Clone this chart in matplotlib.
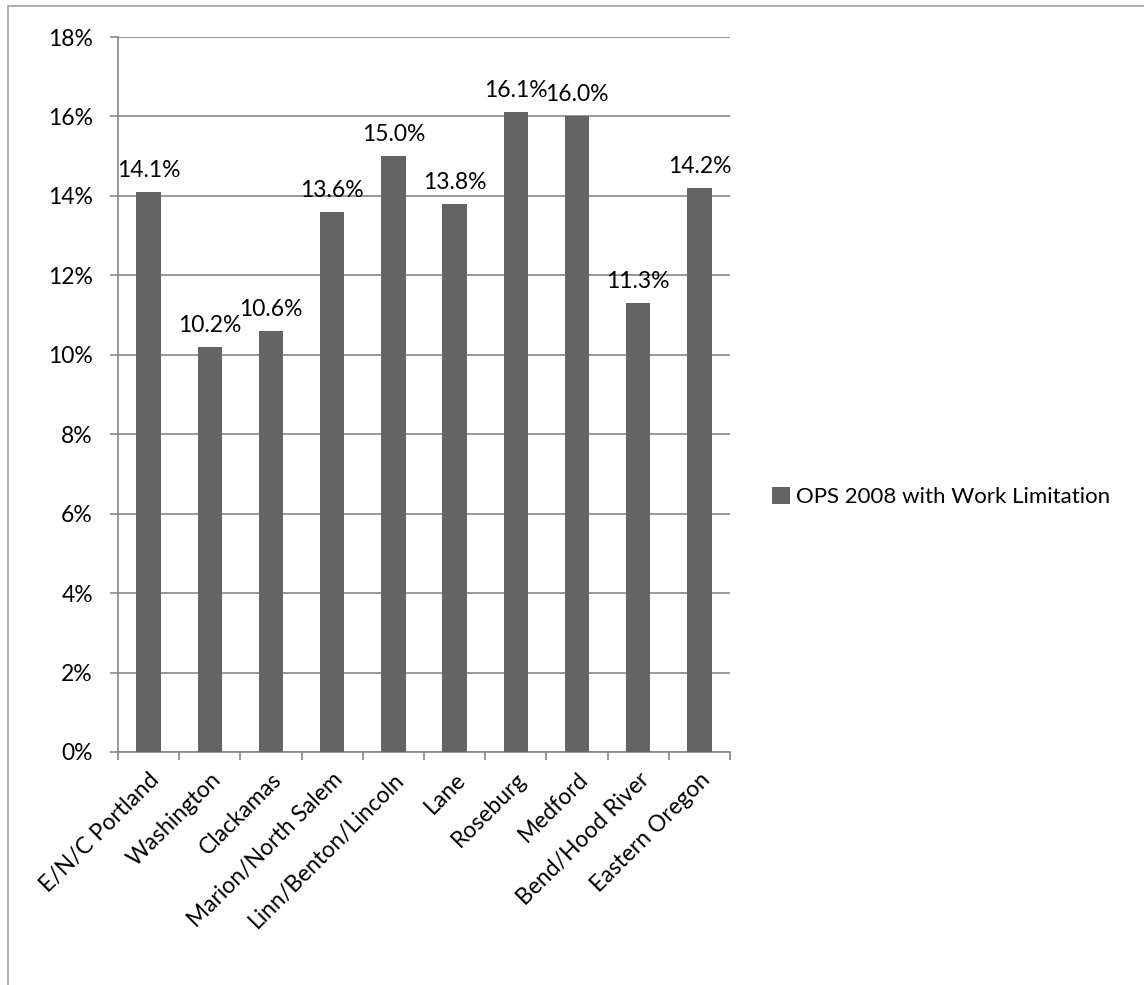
import matplotlib.pyplot as plt
from matplotlib.patches import Rectangle
import numpy as np

plt.rcParams['font.family'] = ['Lato', 'DejaVu Sans']

regions = ['E/N/C Portland', 'Washington', 'Clackamas', 'Marion/North Salem',
           'Linn/Benton/Lincoln', 'Lane', 'Roseburg', 'Medford',
           'Bend/Hood River', 'Eastern Oregon']
pct = [14.1, 10.2, 10.6, 13.6, 15.0, 13.8, 16.1, 16.0, 11.3, 14.2]
series_name = 'OPS 2008 with Work Limitation'

bar_color = '#646464'
axis_color = '#868686'
fs = 16.5

fig = plt.figure(figsize=(11.44, 9.85), dpi=100)
ax = fig.add_axes([118 / 1144, 1 - 752 / 985, 612 / 1144, 715 / 985])

# outer chart border (only top/left visible in the reference)
fig.patches.append(Rectangle((8 / 1144, -0.1), 1.1, 1 - 6 / 985 + 0.1,
                             transform=fig.transFigure, fill=False,
                             edgecolor='#a0a0a0', linewidth=1.2))

x = np.arange(len(regions))
ax.bar(x, pct, width=0.4, color=bar_color, label=series_name, zorder=3)

for xi, v in zip(x, pct):
    ax.annotate('%.1f%%' % v, (xi, v), xytext=(0, 8), textcoords='offset points',
                ha='center', va='bottom', fontsize=fs)

ax.set_xlim(-0.5, len(regions) - 0.5)
ax.set_ylim(0, 18)
ax.set_yticks(np.arange(0, 19, 2))
ax.set_yticklabels(['%d%%' % t for t in range(0, 19, 2)], fontsize=fs)
ax.yaxis.grid(True, color=axis_color, linewidth=1.2, zorder=0)

# category labels at bar centres, tick marks at boundaries
ax.set_xticks(x)
ax.set_xticklabels(regions, rotation=45, ha='right', rotation_mode='anchor', fontsize=fs)
ax.tick_params(axis='x', length=0, pad=12)
ax.set_xticks(np.arange(-0.5, len(regions)), minor=True)
ax.tick_params(axis='x', which='minor', length=6, color=axis_color, width=1.2)
ax.tick_params(axis='y', length=6, color=axis_color, width=1.2, pad=12)

for s in ['top', 'right']:
    ax.spines[s].set_visible(False)
for s in ['left', 'bottom']:
    ax.spines[s].set_color(axis_color)
    ax.spines[s].set_linewidth(1.2)

ax.legend(loc='center left', bbox_to_anchor=(772 / 1144, 1 - 497 / 985),
          bbox_transform=fig.transFigure, frameon=False, fontsize=16,
          borderpad=0, borderaxespad=0,
          handlelength=0.8, handleheight=0.8, handletextpad=0.3)

fig.savefig('out.png', dpi=100)
